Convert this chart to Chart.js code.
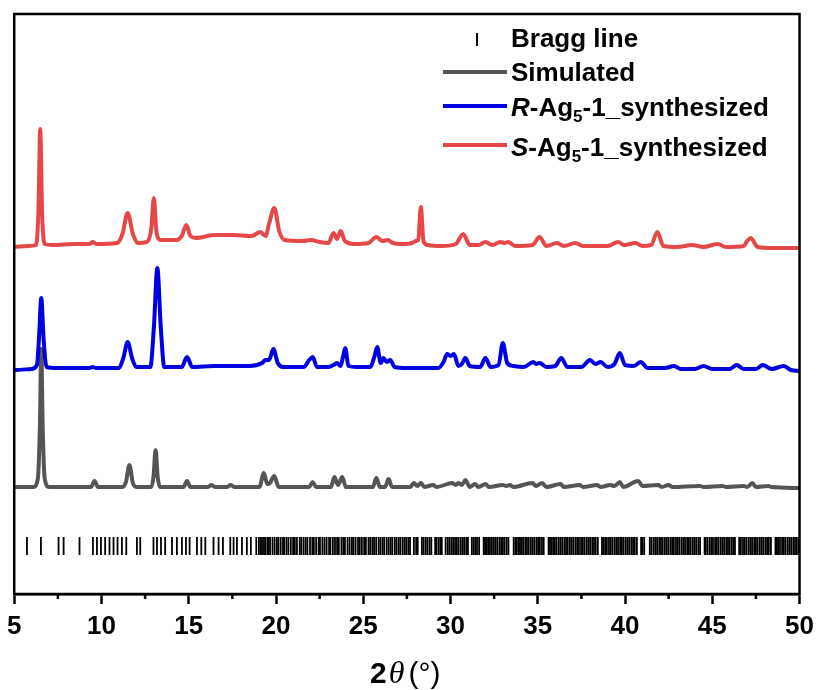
<!DOCTYPE html>
<html>
<head>
<meta charset="utf-8">
<script src="https://cdn.jsdelivr.net/npm/chart.js@4.4.1/dist/chart.umd.min.js"></script>
<style>
  html, body { margin: 0; padding: 0; background: #ffffff; }
  #wrap { width: 821px; height: 690px; }
</style>
</head>
<body>
<div id="wrap"><canvas id="xrd" width="821" height="690"></canvas></div>
<script>
// PXRD patterns: [2θ (°), intensity above the trace's own baseline]
const simulated = [
  [5.0,0],[6.1,0],[6.35,8],[6.47,60],[6.55,138],[6.63,60],[6.75,8],[7.0,0],[9.4,0],[9.6,6],[9.8,0],
  [11.2,0],[11.4,5],[11.6,22],[11.8,4],[12.0,0],[12.85,0],[12.98,10],[13.1,37],[13.22,10],[13.35,0],
  [14.7,0],[14.9,6],[15.1,0],[16.1,0],[16.3,2],[16.5,0],[17.2,0],[17.4,2],[17.6,0],[19.05,0],[19.3,14],
  [19.5,3],[19.65,4],[19.9,11],[20.15,0],[21.9,0],[22.1,5],[22.3,0],[23.15,0],[23.35,10],[23.55,2],
  [23.8,10],[24.0,0],[25.55,0],[25.75,9],[25.95,0],[26.25,0],[26.45,8],[26.65,0],[27.7,0],[27.9,4],
  [28.1,1],[28.3,4],[28.5,0],[29.0,2],[29.2,0],[30.1,4],[30.3,2],[30.45,4],[30.65,2],[30.85,7],[31.1,0],
  [31.4,3],[31.6,0],[32.0,3],[32.2,0],[33.0,2],[33.2,1],[33.4,2],[33.6,0],[34.7,4],[34.9,1],[35.25,4],
  [35.5,0],[36.3,3],[36.5,0],[37.4,2],[37.6,0],[38.4,2],[38.6,0],[39.15,2],[39.4,1],[39.7,5],[39.9,0],
  [40.75,6],[41.0,1],[41.9,2],[42.1,0],[42.5,2],[42.7,0],[44.3,1],[44.5,0],[45.6,1],[45.8,0],[46.8,1],
  [47.0,0],[47.3,4],[47.5,0],[48.2,1],[48.4,0],[50.0,-1]
];

const rSynth = [
  [5.0,-2],[6.0,-1],[6.3,3],[6.42,30],[6.55,70],[6.68,30],[6.85,1],[7.5,0],[9.3,0],[9.5,1],[9.7,0],
  [11.0,0],[11.25,10],[11.5,26],[11.75,10],[12.0,1],[12.8,1],[13.0,40],[13.2,100],[13.4,40],[13.6,1],
  [14.6,1],[14.9,11],[15.2,1],[16.5,2],[18.5,2],[19.2,5],[19.4,8],[19.6,8],[19.85,19],[20.1,5],[20.4,1],
  [21.6,1],[21.9,8],[22.1,11],[22.35,1],[23.0,1],[23.3,3],[23.5,5],[23.7,2],[23.85,12],[23.97,20],
  [24.15,2],[24.6,1],[25.4,1],[25.65,12],[25.8,21],[26.0,5],[26.15,10],[26.35,6],[26.55,8],[26.8,1],
  [27.5,0],[29.3,0],[29.6,6],[29.8,14],[30.0,12],[30.2,14],[30.45,2],[30.65,4],[30.85,10],[31.1,2],
  [31.7,1],[32.0,10],[32.3,1],[32.75,3],[33.0,25],[33.25,5],[33.6,2],[34.2,1],[34.75,6],[34.9,4],
  [35.1,5],[35.5,1],[36.0,2],[36.35,10],[36.7,1],[37.5,1],[38.0,8],[38.3,4],[38.6,6],[39.0,1],[39.4,4],
  [39.7,15],[40.0,3],[40.5,2],[40.9,6],[41.3,0],[42.3,0],[42.8,2],[43.2,-1],[44.0,-1],[44.5,2],[45.0,-1],
  [46.0,-1],[46.4,3],[46.8,-1],[47.5,-1],[47.9,3],[48.4,-1],[49.1,2],[49.5,-2],[50.0,-3]
];

const sSynth = [
  [5.0,-3],[5.8,-2],[6.25,-1],[6.38,30],[6.49,115],[6.6,30],[6.75,0],[7.2,-1],[8.5,0],[9.3,0],[9.5,2],
  [9.7,0],[10.9,1],[11.2,10],[11.5,31],[11.8,10],[12.1,1],[12.6,2],[12.85,15],[13.0,46],[13.15,12],
  [13.4,4],[14.3,4],[14.6,8],[14.86,19],[15.1,8],[15.4,6],[16.5,9],[17.5,9],[18.6,8],[19.1,12],[19.4,8],
  [19.6,20],[19.9,36],[20.2,12],[20.5,4],[21.5,3],[22.0,4],[22.5,2],[23.0,1],[23.3,11],[23.5,5],[23.7,13],
  [23.95,3],[24.5,0],[25.3,1],[25.75,7],[26.1,3],[26.4,4],[26.7,1],[27.2,0],[27.8,1],[28.0,3],[28.15,4],
  [28.3,37],[28.45,3],[28.7,-1],[29.5,-2],[30.3,0],[30.73,10],[31.1,-1],[31.6,-1],[32.0,2],[32.4,-1],
  [32.85,2],[33.1,1],[33.3,2],[33.7,-2],[34.7,-1],[35.1,7],[35.5,-2],[36.1,1],[36.5,-2],[37.15,1],
  [37.6,-2],[39.0,-2],[39.6,2],[39.95,-1],[40.6,1],[41.0,-2],[41.5,-1],[41.85,12],[42.2,-2],[43.0,-3],
  [43.85,-1],[44.5,-3],[45.3,0],[45.8,-3],[46.8,-2],[47.0,3],[47.2,6],[47.6,-3],[48.5,-4],[50.0,-4]
];

// Reflection positions of the calculated pattern (2θ, °)
const braggLines = [
  5.73,6.53,7.54,7.83,8.74,9.51,9.74,9.97,10.21,10.46,10.69,10.92,11.17,11.42,12.03,12.22,12.98,13.18,
  13.41,13.65,14.04,14.32,14.61,14.84,15.05,15.47,15.72,15.95,16.42,16.71,16.96,17.38,17.57,17.76,18.05,
  18.33,18.56,18.87,19.02,19.12,19.2,19.31,19.38,19.5,19.57,19.66,19.8,19.92,20.05,20.14,20.27,20.4,
  20.47,20.6,20.71,20.85,20.98,21.08,21.2,21.36,21.45,21.58,21.7,21.8,21.95,22.08,22.17,22.3,22.44,
  22.52,22.66,22.78,22.9,23.04,23.12,23.26,23.38,23.5,23.6,23.75,23.86,23.95,24.1,24.22,24.35,24.44,
  24.56,24.7,24.8,24.92,25.05,25.15,25.3,25.4,25.52,25.62,25.74,25.88,25.98,26.1,26.2,26.34,26.45,
  26.56,26.66,26.8,26.9,27.02,27.12,27.25,27.36,27.46,27.58,27.68,27.9,28.03,28.12,28.36,28.46,28.58,
  28.68,28.8,28.9,29.12,29.2,29.32,29.42,29.5,29.72,29.84,29.94,30.05,30.15,30.26,30.36,30.46,30.58,
  30.68,30.78,30.9,31.0,31.22,31.32,31.42,31.52,31.64,31.9,31.98,32.07,32.16,32.26,32.37,32.48,32.58,
  32.68,32.8,32.9,33.0,33.1,33.22,33.32,33.62,33.72,33.8,33.9,33.98,34.06,34.16,34.28,34.38,34.48,34.6,
  34.7,34.8,34.92,35.02,35.12,35.24,35.34,35.62,35.7,35.78,35.88,35.98,36.08,36.2,36.3,36.4,36.52,36.62,
  36.72,36.84,36.94,37.04,37.16,37.26,37.36,37.48,37.58,37.68,37.8,37.9,38.0,38.12,38.22,38.32,38.44,
  38.68,38.76,38.86,38.96,39.08,39.18,39.28,39.4,39.5,39.6,39.72,39.82,39.92,40.04,40.14,40.24,40.36,
  40.46,40.56,40.68,40.92,41.0,41.1,41.42,41.52,41.64,41.74,41.84,41.96,42.06,42.16,42.28,42.38,42.48,
  42.6,42.7,42.8,42.92,43.02,43.12,43.24,43.34,43.44,43.56,43.66,43.76,43.88,43.98,44.08,44.2,44.3,
  44.56,44.62,44.72,44.84,44.94,45.04,45.16,45.26,45.36,45.48,45.58,45.68,45.8,45.9,46.0,46.12,46.22,
  46.3,46.54,46.64,46.76,46.86,46.96,47.08,47.18,47.28,47.4,47.5,47.6,47.72,47.82,47.92,48.04,48.14,
  48.24,48.36,48.62,48.7,48.78,48.88,49.0,49.1,49.2,49.32,49.42,49.52,49.64,49.74,49.84,49.94
];

// vertical stacking of the traces (intensity units)
const offsets = { simulated: 107, rSynth: 226, sSynth: 350, bragg: 48 };
const xTicks = [5, 10, 15, 20, 25, 30, 35, 40, 45, 50];
const minorTicks = [7.5, 12.5, 17.5, 22.5, 27.5, 32.5, 37.5, 42.5, 47.5];

const colors = { simulated: '#555555', rSynth: '#0000e1', sSynth: '#e64848', bragg: '#000000' };

const shifted = (arr, off) => arr.map(([x, y]) => ({ x: x, y: y + off }));

const decor = {
  id: 'decor',
  afterDraw(chart) {
    const ctx = chart.ctx;
    const { left, right, top, bottom } = chart.chartArea;
    const xs = chart.scales.x;
    ctx.save();
    // frame
    ctx.strokeStyle = '#000';
    ctx.lineWidth = 2.5;
    ctx.strokeRect(left, top, right - left, bottom - top);
    // minor ticks
    ctx.beginPath();
    minorTicks.forEach(v => {
      const px = xs.getPixelForValue(v);
      ctx.moveTo(px, bottom);
      ctx.lineTo(px, bottom + 5);
    });
    ctx.stroke();

    // legend
    const lx0 = 443, lx1 = 507, tx = 511;
    ctx.fillStyle = '#000';
    ctx.textBaseline = 'alphabetic';
    ctx.lineWidth = 2;
    ctx.beginPath();
    ctx.moveTo(477, 33); ctx.lineTo(477, 46);
    ctx.stroke();
    const big = 'bold 26px "Liberation Sans", Arial, sans-serif';
    const bigIt = 'italic bold 26px "Liberation Sans", Arial, sans-serif';
    const sub = 'bold 17px "Liberation Sans", Arial, sans-serif';
    const drawRich = (parts, x, y) => {
      parts.forEach(p => {
        ctx.font = p.f;
        ctx.fillText(p.t, x, y + (p.dy || 0));
        x += ctx.measureText(p.t).width;
      });
    };
    drawRich([{ t: 'Bragg line', f: big }], tx, 47);

    const legLine = (y, col) => {
      ctx.strokeStyle = col;
      ctx.lineWidth = 4;
      ctx.beginPath();
      ctx.moveTo(lx0, y); ctx.lineTo(lx1, y);
      ctx.stroke();
    };
    legLine(72, colors.simulated);
    drawRich([{ t: 'Simulated', f: big }], tx, 81);
    legLine(106, colors.rSynth);
    drawRich([{ t: 'R', f: bigIt }, { t: '-Ag', f: big }, { t: '5', f: sub, dy: 6 }, { t: '-1_synthesized', f: big }], tx, 116);
    legLine(145, colors.sSynth);
    drawRich([{ t: 'S', f: bigIt }, { t: '-Ag', f: big }, { t: '5', f: sub, dy: 6 }, { t: '-1_synthesized', f: big }], tx, 156);

    // axis title
    const ty = 683;
    let x = 370;
    ctx.font = 'bold 30px "Liberation Sans", Arial, sans-serif';
    ctx.fillText('2', x, ty); x += ctx.measureText('2').width + 2;
    ctx.font = 'italic 32px "Liberation Serif", "Times New Roman", serif';
    ctx.fillText('\u03B8', x, ty); x += ctx.measureText('\u03B8').width + 4;
    ctx.font = '30px "Liberation Sans", Arial, sans-serif';
    ctx.fillText('(\u00B0)', x, ty);
    ctx.restore();
  }
};

const lineDs = (label, arr, off, col, order) => ({
  type: 'line',
  label: label,
  data: shifted(arr, off),
  borderColor: col,
  backgroundColor: col,
  borderWidth: 4,
  borderJoinStyle: 'round',
  borderCapStyle: 'round',
  pointRadius: 0,
  cubicInterpolationMode: 'monotone',
  fill: false,
  order: order
});

new Chart(document.getElementById('xrd'), {
  type: 'scatter',
  data: {
    datasets: [
      {
        type: 'scatter',
        label: 'Bragg line',
        data: braggLines.map(v => ({ x: v, y: offsets.bragg })),
        pointStyle: 'line',
        rotation: 90,
        pointRadius: 9,
        borderWidth: 1.8,
        borderColor: colors.bragg,
        backgroundColor: colors.bragg,
        order: 0
      },
      lineDs('S-Ag5-1_synthesized', sSynth, offsets.sSynth, colors.sSynth, 1),
      lineDs('R-Ag5-1_synthesized', rSynth, offsets.rSynth, colors.rSynth, 2),
      lineDs('Simulated', simulated, offsets.simulated, colors.simulated, 3)
    ]
  },
  options: {
    responsive: false,
    devicePixelRatio: 1,
    animation: false,
    layout: { padding: { left: 14, right: 21, top: 14, bottom: 0 } },
    plugins: { legend: { display: false }, tooltip: { enabled: false } },
    scales: {
      x: {
        type: 'linear',
        min: 5, max: 50,
        afterBuildTicks: s => { s.ticks = xTicks.map(v => ({ value: v })); },
        afterFit: s => { s.height = 96; },
        ticks: {
          color: '#000',
          padding: 7,
          maxRotation: 0,
          font: { family: '"Liberation Sans", Arial, sans-serif', size: 26, weight: 'bold' }
        },
        grid: { drawOnChartArea: false, drawTicks: true, tickLength: 10, tickWidth: 2.5, tickColor: '#000' },
        border: { display: true, color: '#000', width: 2.5 }
      },
      y: {
        display: false,
        min: 0, max: 580
      }
    }
  },
  plugins: [decor]
});
</script>
</body>
</html>
